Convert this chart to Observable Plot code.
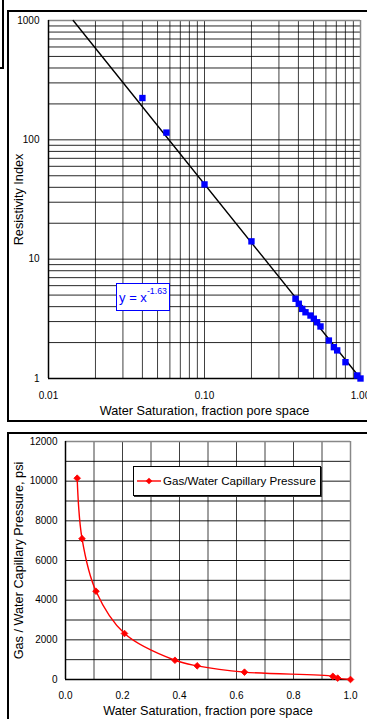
<!DOCTYPE html>
<html><head><meta charset="utf-8">
<script src="https://cdn.jsdelivr.net/npm/d3@7"></script>
<script src="https://cdn.jsdelivr.net/npm/@observablehq/plot@0.6"></script>
<style>
html,body{margin:0;padding:0;background:#fff;}
#root{position:relative;width:367px;height:719px;overflow:hidden;background:#fff;font-family:Arial,"Liberation Sans",sans-serif;}
.frame{position:absolute;box-sizing:border-box;border:2px solid #000;}
.abs{position:absolute;}
svg.plot{position:absolute;left:0;}
</style></head><body><div id="root"></div>
<script>
// ---- Chart 1: Resistivity Index vs Water Saturation (log-log) ----
const riSw  = [0.040, 0.057, 0.100, 0.200, 0.383, 0.402, 0.423, 0.444, 0.478, 0.502, 0.527, 0.554, 0.627, 0.675, 0.709, 0.801, 0.952, 1.000];
const riVal = [224, 115, 42.3, 14.1, 4.66, 4.23, 3.83, 3.59, 3.37, 3.17, 2.96, 2.73, 2.08, 1.83, 1.72, 1.37, 1.06, 1.00];
const fitSw = [0.0144, 1.0];
const fitRI = [1000, 1.0];
const fitLabel = "-1.63";
const riXTicks = [0.01, 0.1, 1];
const riYTicks = [1, 10, 100, 1000];
const riXTitle = "Water Saturation, fraction pore space";
const riYTitle = "Resistivity Index";

// ---- Chart 2: Gas/Water Capillary Pressure ----
const cpSw = [0.041, 0.058, 0.107, 0.207, 0.384, 0.462, 0.628, 0.938, 0.955, 1.000];
const cpP  = [10150, 7100, 4450, 2320, 970, 690, 370, 160, 70, 0];
const cpXTicks = [0, 0.2, 0.4, 0.6, 0.8, 1.0];
const cpYTicks = [0, 2000, 4000, 6000, 8000, 10000, 12000];
const cpXGrid = [0, 0.1, 0.2, 0.3, 0.4, 0.5, 0.6, 0.7, 0.8, 0.9, 1.0];
const cpYGrid = [0, 1000, 2000, 3000, 4000, 5000, 6000, 7000, 8000, 9000, 10000, 11000, 12000];
const cpXTitle = "Water Saturation, fraction pore space";
const cpYTitle = "Gas / Water Capillary Pressure, psi";
const cpLegend = "Gas/Water Capillary Pressure";

const FONT = 'Arial, "Liberation Sans", sans-serif';
const root = document.getElementById("root");

function logGrid(lo, hi) {
  const out = [];
  for (let e = Math.round(Math.log10(lo)); e < Math.round(Math.log10(hi)); e++)
    for (let k = 1; k <= 9; k++) out.push(k * Math.pow(10, e));
  out.push(hi);
  return out;
}

function addDiv(cls, css, html) {
  const d = document.createElement("div");
  d.className = cls; d.style.cssText = css; if (html) d.innerHTML = html;
  root.appendChild(d); return d;
}
function place(svg, topPx, w, h) {
  svg.classList.add("plot");
  svg.style.maxWidth = "none";
  svg.style.width = w + "px";
  svg.style.height = h + "px";
  svg.style.top = topPx + "px";
  svg.style.overflow = "visible";
  root.appendChild(svg);
}
addDiv("frame", "left:-20px;top:-20px;width:24px;height:89px;");
addDiv("frame", "left:7px;top:10px;width:420px;height:412px;");
addDiv("frame", "left:7px;top:432px;width:420px;height:320px;");

const riData = riSw.map((x, i) => ({x, y: riVal[i]}));
const fitData = fitSw.map((x, i) => ({x, y: fitRI[i]}));

const chartTop = Plot.plot({
  width: 400, height: 421,
  marginLeft: 48, marginRight: 40, marginTop: 20, marginBottom: 43,
  style: {fontFamily: FONT, fontSize: "10px", color: "#000", background: "transparent"},
  x: {type: "log", domain: [0.01, 1]},
  y: {type: "log", domain: [1, 1000]},
  marks: [
    Plot.ruleX(logGrid(0.01, 1), {stroke: "#000", strokeOpacity: 0.75, strokeWidth: 1}),
    Plot.ruleY(logGrid(1, 1000), {stroke: "#000", strokeOpacity: 0.85, strokeWidth: 1}),
    Plot.ruleX([1], {stroke: "#888", strokeWidth: 1.5}),
    Plot.ruleY([1000], {stroke: "#888", strokeWidth: 1.5}),
    Plot.ruleX([0.01], {stroke: "#000", strokeWidth: 1.5}),
    Plot.ruleY([1], {stroke: "#000", strokeWidth: 1.5}),
    Plot.line(fitData, {x: "x", y: "y", stroke: "#000", strokeWidth: 1.4}),
    Plot.dot(riData, {x: "x", y: "y", symbol: "square", r: 3.6, fill: "#0000ff", stroke: "none"}),
    Plot.axisX(riXTicks, {tickSize: 0, tickPadding: 13, tickFormat: d => d.toFixed(2), label: null}),
    Plot.axisY(riYTicks, {tickSize: 0, tickPadding: 9, tickFormat: d => String(d), label: null}),
    Plot.text([riXTitle], {frameAnchor: "bottom", dy: 32, textAnchor: "middle", lineAnchor: "middle", fontSize: 12.7, fill: "#000"}),
    Plot.text([riYTitle], {frameAnchor: "left", rotate: -90, dx: -30, textAnchor: "middle", lineAnchor: "middle", fontSize: 12.7, fill: "#000"})
  ]
});
place(chartTop, 0, 400, 421);

const cpData = cpSw.map((x, i) => ({x, y: cpP[i]}));
const chartBot = Plot.plot({
  width: 400, height: 287,
  marginLeft: 65, marginRight: 50, marginTop: 9, marginBottom: 40,
  style: {fontFamily: FONT, fontSize: "10px", color: "#000", background: "transparent"},
  x: {domain: [0, 1]},
  y: {domain: [0, 12000]},
  marks: [
    Plot.ruleX(cpXGrid, {stroke: "#000", strokeOpacity: 0.75, strokeWidth: 1}),
    Plot.ruleY(cpYGrid, {stroke: "#000", strokeOpacity: 0.9, strokeWidth: 1}),
    Plot.ruleX([1], {stroke: "#888", strokeWidth: 1.5}),
    Plot.ruleY([12000], {stroke: "#888", strokeWidth: 1.5}),
    Plot.ruleX([0], {stroke: "#000", strokeWidth: 1.5}),
    Plot.ruleY([0], {stroke: "#000", strokeWidth: 1.5}),
    Plot.line(cpData, {x: "x", y: "y", stroke: "#ff0000", strokeWidth: 1.4, curve: "catmull-rom"}),
    Plot.dot(cpData, {x: "x", y: "y", symbol: "diamond2", r: 3, fill: "#ff0000", stroke: "#ff0000", strokeWidth: 0.8}),
    Plot.axisX(cpXTicks, {tickSize: 0, tickPadding: 12.5, tickFormat: d => d.toFixed(1), label: null}),
    Plot.axisY(cpYTicks, {tickSize: 0, tickPadding: 8, tickFormat: d => String(d), label: null}),
    Plot.text([cpXTitle], {frameAnchor: "bottom", dy: 31, textAnchor: "middle", lineAnchor: "middle", fontSize: 12.7, fill: "#000"}),
    Plot.text([cpYTitle], {frameAnchor: "left", rotate: -90, dx: -47, textAnchor: "middle", lineAnchor: "middle", fontSize: 12.7, fill: "#000"})
  ]
});
place(chartBot, 432, 400, 287);

addDiv("abs", "left:116px;top:283px;width:54px;height:28px;box-sizing:border-box;border:1.5px solid #0000ff;background:#fff;color:#0000ff;font-size:13px;display:flex;align-items:center;justify-content:center;white-space:nowrap;",
  'y = x<sup style="font-size:8.8px;vertical-align:0;position:relative;top:-6px;">' + fitLabel + '</sup>');

addDiv("abs", "left:133px;top:466px;width:188px;height:30px;box-sizing:border-box;border:1px solid #000;box-shadow:1px 1px 0 #333;background:#fff;font-size:11.6px;color:#000;white-space:nowrap;",
  '<svg width="30" height="28" style="position:absolute;left:1px;top:0;"><line x1="2" y1="14" x2="26" y2="14" stroke="#ff0000" stroke-width="1.4"/><path d="M14,10.7L17.3,14L14,17.3L10.7,14Z" fill="#ff0000"/></svg>' +
  '<span style="position:absolute;left:29px;top:7px;">' + cpLegend + '</span>');
</script></body></html>
